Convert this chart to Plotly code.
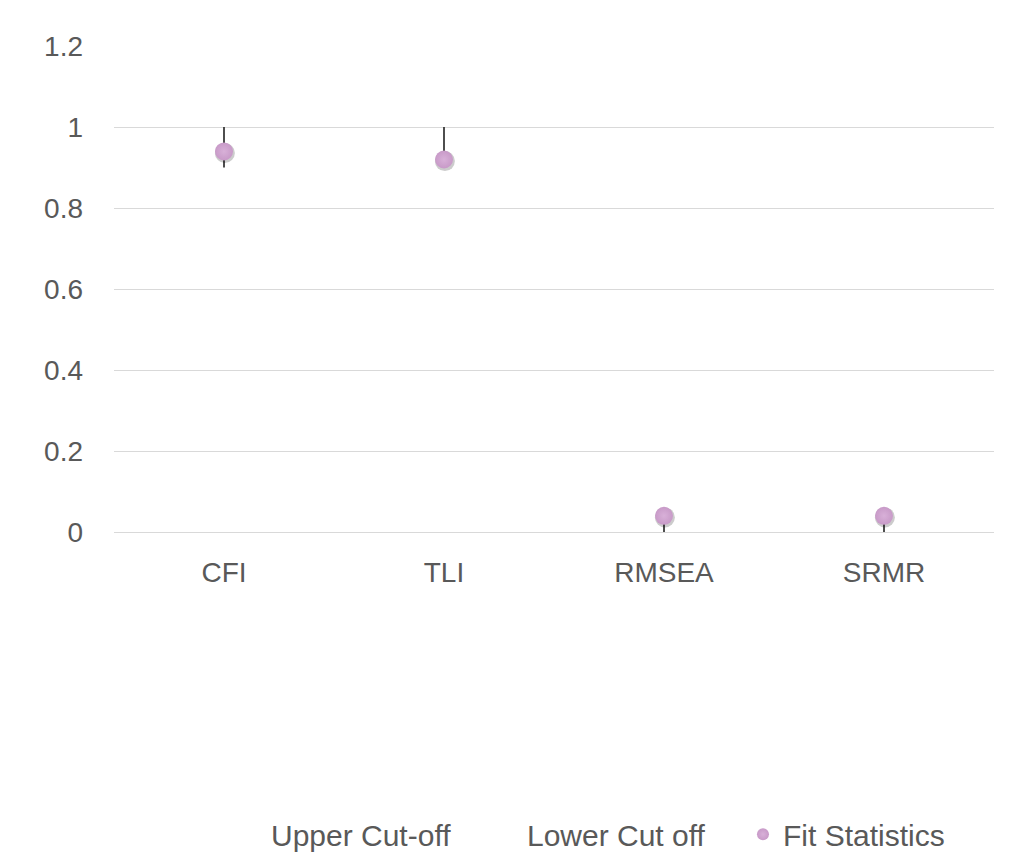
import plotly.graph_objects as go

categories = ["CFI", "TLI", "RMSEA", "SRMR"]
upper_cutoff = [1.0, 1.0, 0.05, 0.05]
lower_cutoff = [0.9, 0.9, 0.0, 0.0]
fit_statistics = [0.94, 0.92, 0.04, 0.04]
y_ticks = [0, 0.2, 0.4, 0.6, 0.8, 1.0, 1.2]
y_tick_labels = ["0", "0.2", "0.4", "0.6", "0.8", "1", "1.2"]

FONT = "Liberation Sans, Arial, sans-serif"
TXT = "#595959"
xpos = list(range(len(categories)))

fig = go.Figure()

# Upper cut-off (invisible marker) with high-low line down to the lower cut-off
fig.add_trace(go.Scatter(
    x=xpos, y=upper_cutoff, mode="markers", name="Upper Cut-off",
    marker=dict(size=1, color="rgba(0,0,0,0)"),
    error_y=dict(type="data", symmetric=False,
                 array=[0] * len(categories),
                 arrayminus=[u - l for u, l in zip(upper_cutoff, lower_cutoff)],
                 color="#3A3A3A", thickness=1.8, width=0),
    hoverinfo="skip",
))
fig.add_trace(go.Scatter(
    x=xpos, y=lower_cutoff, mode="markers", name="Lower Cut off",
    marker=dict(size=1, color="rgba(0,0,0,0)"),
    hoverinfo="skip",
))
# soft drop shadow of the markers
fig.add_trace(go.Scatter(
    x=[p + 0.004 for p in xpos], y=[v - 0.004 for v in fit_statistics],
    mode="markers", showlegend=False,
    marker=dict(size=20, color="rgba(0,0,0,0.2)", line=dict(width=0)),
    hoverinfo="skip",
))
fig.add_trace(go.Scatter(
    x=xpos, y=fit_statistics, mode="markers", name="Fit Statistics",
    marker=dict(size=18, color="#C89AC8",
                gradient=dict(type="radial", color="#D8B0D8"),
                line=dict(width=0)),
))

fig.update_layout(
    width=1022, height=857,
    margin=dict(l=114, r=28, t=46, b=325),
    paper_bgcolor="white", plot_bgcolor="white",
    font=dict(family=FONT, size=28, color=TXT),
    showlegend=True,
    legend=dict(orientation="h", xref="container", yref="container",
                x=0.226, xanchor="left", y=0.0265, yanchor="middle",
                font=dict(family=FONT, size=30, color=TXT),
                itemsizing="constant", itemwidth=30, traceorder="normal",
                entrywidth=211, entrywidthmode="pixels"),
    xaxis=dict(showgrid=False, showline=False, ticks="", zeroline=False,
               tickvals=xpos, ticktext=categories,
               tickfont=dict(family=FONT, size=28, color=TXT),
               range=[-0.5, 3.5], ticklabelstandoff=21),
    yaxis=dict(range=[0, 1.2003], tickvals=y_ticks, ticktext=y_tick_labels,
               showgrid=True, gridcolor="#D9D9D9", gridwidth=1.3,
               zeroline=True, zerolinecolor="#D9D9D9", zerolinewidth=1.3,
               showline=False, ticks="", ticklabelstandoff=30,
               tickfont=dict(family=FONT, size=28, color=TXT)),
)

fig.write_html("out.html")
